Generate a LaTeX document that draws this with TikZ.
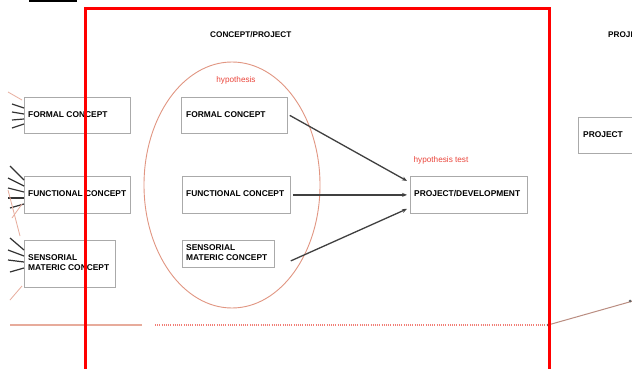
\documentclass[tikz,border=0pt]{standalone}
\usepackage{fontspec}
\setmainfont{Liberation Sans}
\usetikzlibrary{shapes.geometric,arrows.meta}
\definecolor{boxgray}{RGB}{170,170,170}
\definecolor{salmon}{RGB}{225,150,130}
\definecolor{hyred}{RGB}{235,70,60}
\definecolor{framered}{RGB}{255,0,0}
\tikzset{
  cbox/.style={draw=boxgray, line width=0.8pt, inner sep=3pt, anchor=north west},
  btext/.style={anchor=west, font=\fontsize{8.4}{10}\selectfont\bfseries, align=left, inner sep=0pt},
  hlabel/.style={font=\fontsize{8.2}{9}\selectfont, text=hyred},
  flow/.style={draw=black!75, line width=1.3pt, -{Stealth[length=5pt,width=4pt]}},
  lstroke/.style={draw=black!80, line width=1.2pt},
  lred/.style={draw=salmon!80, line width=0.8pt},
}
\begin{document}
\begin{tikzpicture}[x=1pt,y=-1pt]
\useasboundingbox (0,0) rectangle (632,369);
\clip (0,0) rectangle (632,369);
\fill[white] (0,0) rectangle (632,369);
% small black bar at top
\draw[line width=1.2pt] (29,1) coordinate (bara) -- (77,1) coordinate (barb);
% header
\node[btext, font=\fontsize{8.2}{10}\selectfont\bfseries] (hdr) at (210,35) {CONCEPT/PROJECT};
\node[btext, font=\fontsize{8.2}{10}\selectfont\bfseries] (hdr2) at (608,35) {PROJECT};
% left column boxes
\node[cbox, minimum width=106pt, minimum height=36pt] (lformal) at (24,97) {};
\node[btext] (lformalt) at (28,115) {FORMAL CONCEPT};
\node[cbox, minimum width=106pt, minimum height=37pt] (lfunc) at (24,176) {};
\node[btext] (lfunct) at (28,194) {FUNCTIONAL CONCEPT};
\node[cbox, minimum width=91pt, minimum height=47pt] (lsens) at (24,240) {};
\node[btext] (lsenst) at (28,263) {SENSORIAL\\MATERIC CONCEPT};
% left edge strokes
\foreach \i/\ya/\yb in {1/104/108,2/112/114,3/120/119,4/128/124}{
  \coordinate (ls\i) at (12,\ya);
  \draw[lstroke] (ls\i) -- (lformal.west |- 0,\yb);
}
\foreach \i/\xa/\ya/\yb in {1/10/166/180,2/8/178/186,3/8/188/192,4/8/198/198,5/10/208/204}{
  \coordinate (lf\i) at (\xa,\ya);
  \draw[lstroke] (lf\i) -- (lfunc.west |- 0,\yb);
}
\foreach \i/\xa/\ya/\yb in {1/10/238/250,2/8/250/256,3/8/260/262,4/10/272/268}{
  \coordinate (lt\i) at (\xa,\ya);
  \draw[lstroke] (lt\i) -- (lsens.west |- 0,\yb);
}
\coordinate (r1a) at (8,92); \coordinate (r1b) at (22,100);
\draw[lred] (r1a) -- (r1b);
\coordinate (r2a) at (8,190); \coordinate (r2b) at (20,236);
\draw[lred] (r2a) -- (r2b);
\coordinate (r3a) at (22,286); \coordinate (r3b) at (10,300);
\draw[lred] (r3a) -- (r3b);
\coordinate (r4a) at (22,204); \coordinate (r4b) at (12,218);
\draw[lred] (r4a) -- (r4b);
% ellipse
\node[draw=salmon, line width=0.9pt, ellipse, minimum width=176pt, minimum height=246pt, inner sep=0pt] (hypo) at (232,185) {};
\node[hlabel] (hyplab) at (236,80) {hypothesis};
% inner boxes
\node[cbox, minimum width=106pt, minimum height=36pt] (formal) at (181,97) {};
\node[btext] (formalt) at (186,115) {FORMAL CONCEPT};
\node[cbox, minimum width=108pt, minimum height=37pt] (func) at (182,176) {};
\node[btext] (funct) at (186,194) {FUNCTIONAL CONCEPT};
\node[cbox, minimum width=92pt, minimum height=27pt] (sens) at (182,240) {};
\node[btext] (senst) at (186,253) {SENSORIAL\\MATERIC CONCEPT};
% project box
\node[cbox, minimum width=117pt, minimum height=37pt] (proj) at (410,176) {};
\node[btext] (projt) at (414,194) {PROJECT/DEVELOPMENT};
\node[hlabel] (testlab) at (441,160) {hypothesis test};
% right partial box
\node[cbox, minimum width=70pt, minimum height=36pt] (rproj) at (578,117) {};
\node[btext] (rprojt) at (583,135) {PROJECT};
% arrows
\draw[flow] ([xshift=2pt]formal.east) -- ([xshift=-3pt,yshift=14pt]proj.west);
\draw[flow] ([xshift=2pt]func.east) -- ([xshift=-3pt]proj.west);
\draw[flow] ([xshift=16pt,yshift=-7pt]sens.east) -- ([xshift=-3pt,yshift=-14pt]proj.west);
% bottom lines
\coordinate (b1) at (10,325); \coordinate (b2) at (142,325);
\draw[draw=salmon!80, line width=1.6pt] (b1) -- (b2);
\coordinate (b3) at (155,325); \coordinate (b4) at (548,325);
\draw[draw=hyred!70, line width=1.6pt, dash pattern=on 1pt off 1.2pt] (b3) -- (b4);
\coordinate (b5) at (640,299);
\draw[draw=salmon!60!gray, line width=1pt] (b4) -- (b5);
\fill[black!60] (b4) circle (1.5pt);
\fill[black!60] (630,301) circle (1.5pt);
% red frame
\node[draw=framered, line width=3pt, minimum width=464pt, minimum height=370pt, anchor=north west, inner sep=0pt] (frame) at (84,7) {};
\end{tikzpicture}
\end{document}
